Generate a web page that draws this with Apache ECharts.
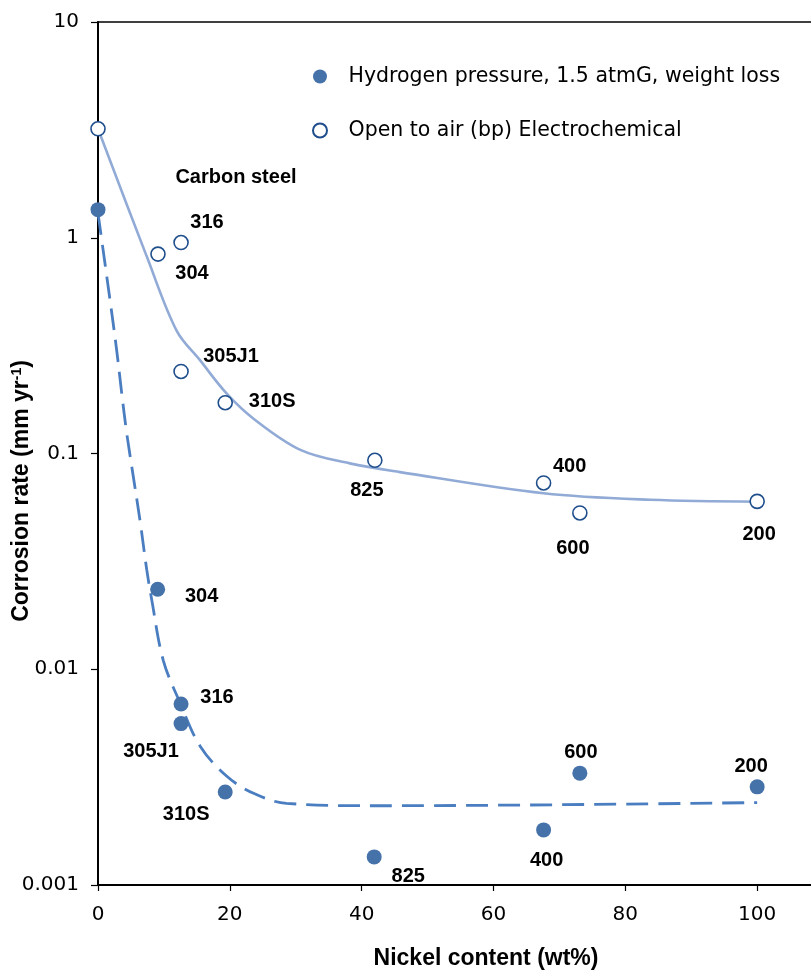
<!DOCTYPE html>
<html><head><meta charset="utf-8">
<script src="https://cdn.jsdelivr.net/npm/echarts@6/dist/echarts.min.js"></script>
<style>html,body{margin:0;padding:0;background:#fff}#c{width:811px;height:972px}</style>
</head><body><div id="c"></div>
<script>
// ---- data ----
const openNames   = ['Carbon steel', '304', '316', '305J1', '310S', '825', '400', '600', '200'];
const openNickel  = [0, 9.1, 12.6, 12.6, 19.3, 42.0, 67.6, 73.1, 100];
const openRate    = [3.2, 0.84, 0.95, 0.24, 0.172, 0.093, 0.073, 0.053, 0.060];

const filledNames  = ['', '304', '316', '305J1', '310S', '825', '400', '600', '200'];
const filledNickel = [0, 9.05, 12.6, 12.6, 19.3, 41.9, 67.6, 73.1, 100];
const filledRate   = [1.35, 0.0235, 0.0069, 0.0056, 0.0027, 0.00135, 0.0018, 0.0033, 0.00285];

// trend curves
const openFitX  = [0, 7.39, 11.94, 15.5, 19.5, 23.6, 30.7, 38.2, 45.8, 67.6, 83.8, 100];
const openFitY  = [3.2, 0.82, 0.37, 0.27, 0.19, 0.145, 0.104, 0.090, 0.082, 0.0654, 0.061, 0.0598];
const filledFitX = [0, 1.82, 2.84, 3.6, 4.36, 5.36, 6.37, 7.39, 8.15, 9.9, 12.44, 15.5, 19.5, 23.6, 28.6, 42.8, 100];
const filledFitY = [1.3, 0.515, 0.30, 0.19, 0.124, 0.078, 0.049, 0.029, 0.021, 0.011, 0.0070, 0.0044, 0.0032, 0.00266, 0.00239, 0.00233, 0.00241];

const xTicks = [0, 20, 40, 60, 80, 100];
const yTickLabels = ['0.001', '0.01', '0.1', '1', '10'];

const seriesOpenName = 'Open to air (bp) Electrochemical';
const seriesFilledName = 'Hydrogen pressure, 1.5 atmG, weight loss';

// ---- styling ----
const openLabelOffset = {
  'Carbon steel': [138, 49], '304': [34, 19], '316': [26, -20], '305J1': [50, -15],
  '310S': [47, -1], '825': [-8, 30], '400': [26, -17], '600': [-7, 35], '200': [2, 33]
};
const filledLabelOffset = {
  '304': [44, 7], '316': [36, -7], '305J1': [-30, 28], '310S': [-39, 23],
  '825': [34, 20], '400': [3, 31], '600': [1, -21], '200': [-6, -20]
};
const labelFont = { fontFamily: 'Liberation Sans, Arial, sans-serif', fontWeight: 'bold', fontSize: 20, color: '#000' };

function pointData(xs, ys, names, offsets) {
  return xs.map((x, i) => {
    const d = { value: [x, ys[i]], name: names[i] };
    const off = offsets[names[i]];
    if (off) {
      d.label = Object.assign({ show: true, position: 'inside', align: 'center', verticalAlign: 'middle',
        offset: off, formatter: names[i] }, labelFont);
    } else {
      d.label = { show: false };
    }
    return d;
  });
}
function lineData(xs, ys) { return xs.map((x, i) => [x, ys[i]]); }

const chart = echarts.init(document.getElementById('c'), null, { renderer: 'canvas' });
chart.setOption({
  animation: false,
  backgroundColor: '#fff',
  grid: { left: 98, top: 22, width: 791, height: 863, outerBoundsMode: 'none', containLabel: false,
    show: true, borderColor: '#000', borderWidth: 1.5, backgroundColor: 'transparent' },
  legend: {
    orient: 'vertical', left: 307, top: 61, itemWidth: 47, itemHeight: 14, itemGap: 33,
    data: [seriesFilledName, seriesOpenName],
    textStyle: { fontFamily: 'DejaVu Sans', fontSize: 20.5, color: '#000' },
    selectedMode: false
  },
  xAxis: {
    type: 'value', min: 0, max: 120, interval: 20,
    axisLine: { show: true, onZero: false, lineStyle: { color: '#000', width: 2 } },
    axisTick: { show: true, length: 6, lineStyle: { color: '#000', width: 1.2 } },
    axisLabel: { fontFamily: 'DejaVu Sans', fontSize: 20, color: '#000', margin: 20,
      formatter: v => (xTicks.indexOf(v) >= 0 ? String(v) : '') },
    splitLine: { show: false }
  },
  yAxis: {
    type: 'log', logBase: 10, min: 0.001, max: 10,
    axisLine: { show: true, lineStyle: { color: '#000', width: 2 } },
    axisTick: { show: true, length: 7, lineStyle: { color: '#000', width: 1.2 } },
    minorTick: { show: false },
    axisLabel: { fontFamily: 'DejaVu Sans', fontSize: 20, color: '#000', margin: 19,
      formatter: v => yTickLabels[Math.round(Math.log10(v)) + 3] },
    splitLine: { show: false }
  },
  graphic: [
    { type: 'text', x: 22, y: 491, rotation: Math.PI / 2,
      style: { text: 'Corrosion rate (mm yr{sup|-1})', fontFamily: 'Liberation Sans, Arial, sans-serif',
        fontWeight: 'bold', fontSize: 23, fill: '#000', align: 'center', verticalAlign: 'middle',
        rich: { sup: { fontSize: 14, fontWeight: 'bold', fontFamily: 'Liberation Sans, Arial, sans-serif', verticalAlign: 'top', fill: '#000' } } } },
    { type: 'text', x: 486, y: 959,
      style: { text: 'Nickel content (wt%)', fontFamily: 'Liberation Sans, Arial, sans-serif',
        fontWeight: 'bold', fontSize: 23, fill: '#000', align: 'center', verticalAlign: 'middle' } }
  ],
  series: [
    { type: 'line', name: 'openFit', data: lineData(openFitX, openFitY), smooth: 0.35, showSymbol: false, silent: true,
      lineStyle: { color: '#91ABD6', width: 2.6 }, z: 2 },
    { type: 'line', name: 'filledFit', data: lineData(filledFitX, filledFitY), smooth: 0.35, showSymbol: false, silent: true,
      lineStyle: { color: '#4A7EC0', width: 2.8, type: [22, 10] }, z: 2 },
    { type: 'scatter', name: seriesFilledName, data: pointData(filledNickel, filledRate, filledNames, filledLabelOffset),
      symbol: 'circle', symbolSize: 15, itemStyle: { color: '#4672AA', opacity: 1 }, z: 5 },
    { type: 'scatter', name: seriesOpenName, data: pointData(openNickel, openRate, openNames, openLabelOffset),
      symbol: 'circle', symbolSize: 14, itemStyle: { color: '#fff', borderColor: '#1F4E8C', borderWidth: 1.6, opacity: 1 }, z: 5 }
  ]
});
</script></body></html>
